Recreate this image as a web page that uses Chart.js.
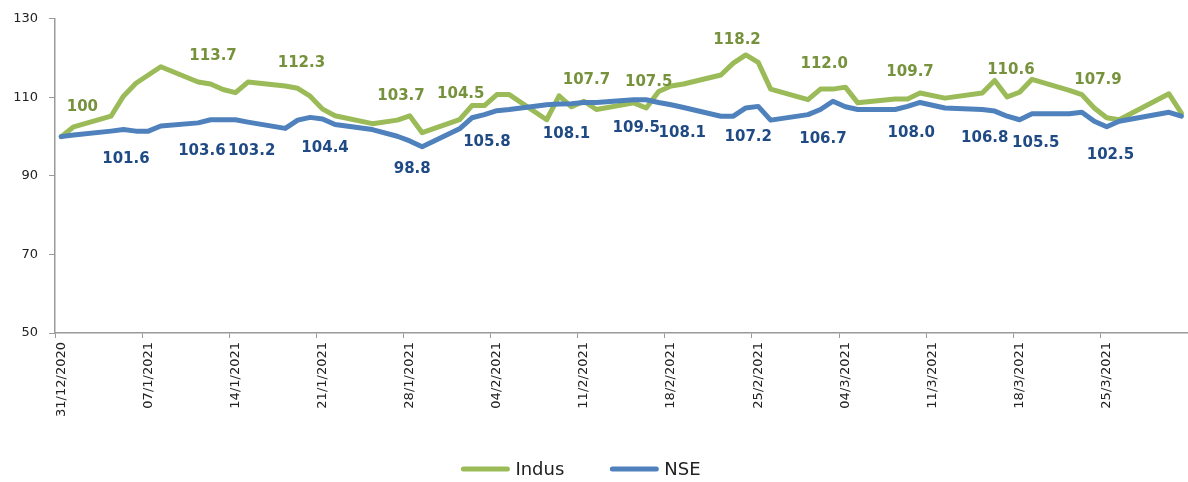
<!DOCTYPE html>
<html>
<head>
<meta charset="utf-8">
<script src="https://cdn.jsdelivr.net/npm/chart.js@4.4.1/dist/chart.umd.min.js"></script>
<style>
  html, body { margin: 0; padding: 0; background: #fff; overflow: hidden; }
  #wrap { width: 1201px; height: 482px; }
</style>
</head>
<body>
<div id="wrap"><canvas id="chart"></canvas></div>
<script>
// one slot per calendar day, 31/12/2020 .. 31/3/2021; null = market closed
const days = Array.from({ length: 91 }, (_, i) => {
    const d = new Date(2020, 11, 31 + i);
    return `${String(d.getDate()).padStart(2, "0")}/${d.getMonth() + 1}/${d.getFullYear()}`;
});

const indus = [
    100.0, 102.5, null, null, 105.2, 110.3, 113.6,
    115.7, 117.8, null, null, 113.9, 113.4, 112.0,
    111.2, 113.9, null, null, 112.9, 112.3, 110.3,
    107.0, 105.3, null, null, 103.3, null, 104.2,
    105.3, 101.0, null, null, 104.3, 107.9, 107.9,
    110.7, 110.7, null, null, 104.3, 110.4, 107.6,
    109.0, 106.9, null, null, 108.6, 107.3, 111.5,
    112.9, 113.4, null, null, 115.7, 118.7, 120.8,
    118.9, 112.1, null, null, 109.4, 112.1, 112.1,
    112.6, 108.6, null, null, 109.6, 109.6, 111.1,
    null, 109.8, null, null, 111.1, 114.3, 110.1,
    111.3, 114.6, null, null, 111.8, 110.7, 107.3,
    104.8, 104.3, null, null, null, 110.9, 106.0
];

const nse = [
    100.0, 100.4, null, null, 101.4, 101.8, 101.4,
    101.4, 102.7, null, null, 103.5, 104.3, 104.3,
    104.3, 103.7, null, null, 102.1, 104.2, 104.9,
    104.5, 103.1, null, null, 101.8, null, 100.1,
    98.9, 97.4, null, null, 102.0, 104.8, 105.6,
    106.6, 106.9, null, null, 108.1, 108.3, 108.4,
    108.7, 108.7, null, null, 109.4, 109.4, 108.7,
    108.1, 107.4, null, null, 105.2, 105.2, 107.3,
    107.7, 104.2, null, null, 105.6, 106.9, 109.0,
    107.6, 106.9, null, null, 106.9, 107.7, 108.7,
    null, 107.3, null, null, 106.9, 106.5, 105.2,
    104.3, 105.8, null, null, 105.8, 106.2, 103.9,
    102.5, 103.9, null, null, null, 106.2, 105.2
];

// value callouts: text, day slot and level where they sit
const indusNotes = ["100", "113.7", "112.3", "103.7", "104.5", "107.7", "107.5", "118.2", "112.0", "109.7", "110.6", "107.9"];
const indusNoteDays = [1.7, 12.2, 19.3, 27.3, 32.1, 42.2, 47.2, 54.3, 61.3, 68.2, 76.3, 83.3];
const indusNoteLevels = [107.5, 120.5, 118.7, 110.3, 110.8, 114.4, 113.9, 124.5, 118.4, 116.4, 116.9, 114.4];

const nseNotes = ["101.6", "103.6", "103.2", "104.4", "98.8", "105.8", "108.1", "109.5", "108.1", "107.2", "106.7", "108.0", "106.8", "105.5", "102.5"];
const nseNoteDays = [5.2, 11.3, 15.3, 21.2, 28.2, 34.2, 40.6, 46.2, 49.9, 55.2, 61.2, 68.3, 74.2, 78.3, 84.3];
const nseNoteLevels = [94.4, 96.4, 96.2, 97.2, 91.8, 98.7, 100.7, 102.2, 101.0, 99.9, 99.4, 101.0, 99.7, 98.4, 95.4];

const GREEN = "#9BBB59";
const BLUE = "#4F81BD";
const AXIS = "#9A9A9A";
const FONT = "'DejaVu Sans', sans-serif";

const notesPlugin = {
    id: "notes",
    afterDatasetsDraw(chart) {
        const { ctx, scales } = chart;
        ctx.save();
        ctx.font = `bold 15px ${FONT}`;
        ctx.textAlign = "center";
        ctx.textBaseline = "middle";
        const draw = (texts, dayList, levels, color) => {
            ctx.fillStyle = color;
            texts.forEach((t, i) => {
                ctx.fillText(t, scales.x.getPixelForValue(dayList[i]), scales.y.getPixelForValue(levels[i]));
            });
        };
        draw(indusNotes, indusNoteDays, indusNoteLevels, "#76923C");
        draw(nseNotes, nseNoteDays, nseNoteLevels, "#1F4A84");
        ctx.restore();
    }
};

const legendPlugin = {
    id: "bottomLegend",
    afterDraw(chart) {
        const { ctx } = chart;
        const items = chart.data.datasets;
        ctx.save();
        ctx.font = `18px ${FONT}`;
        ctx.textBaseline = "middle";
        const lineW = 48, gapText = 6, gapItem = 46;
        const widths = items.map(ds => lineW + gapText + ctx.measureText(ds.label).width);
        const total = widths.reduce((a, b) => a + b, 0) + gapItem * (items.length - 1);
        let x = 581 - total / 2;
        const y = chart.height - 13;
        items.forEach((ds, i) => {
            ctx.strokeStyle = ds.borderColor;
            ctx.lineWidth = 5;
            ctx.lineCap = "round";
            ctx.beginPath();
            ctx.moveTo(x + 2, y);
            ctx.lineTo(x + lineW - 2, y);
            ctx.stroke();
            ctx.fillStyle = "#222";
            ctx.fillText(ds.label, x + lineW + gapText, y + 1);
            x += widths[i] + gapItem;
        });
        ctx.restore();
    }
};

new Chart(document.getElementById("chart"), {
    type: "line",
    data: {
        labels: days,
        datasets: [
            {
                label: "Indus",
                data: indus,
                borderColor: GREEN,
                backgroundColor: GREEN,
                borderWidth: 5,
                pointRadius: 0,
                tension: 0,
                spanGaps: true,
                borderJoinStyle: "round",
                borderCapStyle: "round",
                order: 2
            },
            {
                label: "NSE",
                data: nse,
                borderColor: BLUE,
                backgroundColor: BLUE,
                borderWidth: 5,
                pointRadius: 0,
                tension: 0,
                spanGaps: true,
                borderJoinStyle: "round",
                borderCapStyle: "round",
                order: 1
            }
        ]
    },
    options: {
        responsive: true,
        maintainAspectRatio: false,
        animation: false,
        layout: { padding: { top: 14, right: 0, bottom: 60, left: 0 } },
        plugins: {
            legend: { display: false },
            tooltip: { enabled: false }
        },
        scales: {
            x: {
                offset: true,
                grid: {
                    offset: true,
                    drawOnChartArea: false,
                    tickLength: 5,
                    color: c => (c.index % 7 === 0 ? AXIS : "rgba(0,0,0,0)")
                },
                border: { color: AXIS, width: 1.5 },
                ticks: {
                    autoSkip: false,
                    minRotation: 90,
                    maxRotation: 90,
                    padding: 4,
                    color: "#222",
                    font: { family: FONT, size: 13 },
                    callback: function (value, index) {
                        return index % 7 === 0 ? this.getLabelForValue(value) : "";
                    }
                },
                afterFit: s => { s.height = 89; }
            },
            y: {
                min: 50,
                max: 130,
                grid: { drawOnChartArea: false, tickLength: 6, color: AXIS },
                border: { color: AXIS, width: 1.5 },
                ticks: {
                    stepSize: 20,
                    padding: 11,
                    color: "#222",
                    font: { family: FONT, size: 13 }
                },
                afterFit: s => { s.width = 55; }
            }
        }
    },
    plugins: [notesPlugin, legendPlugin]
});
</script>
</body>
</html>
